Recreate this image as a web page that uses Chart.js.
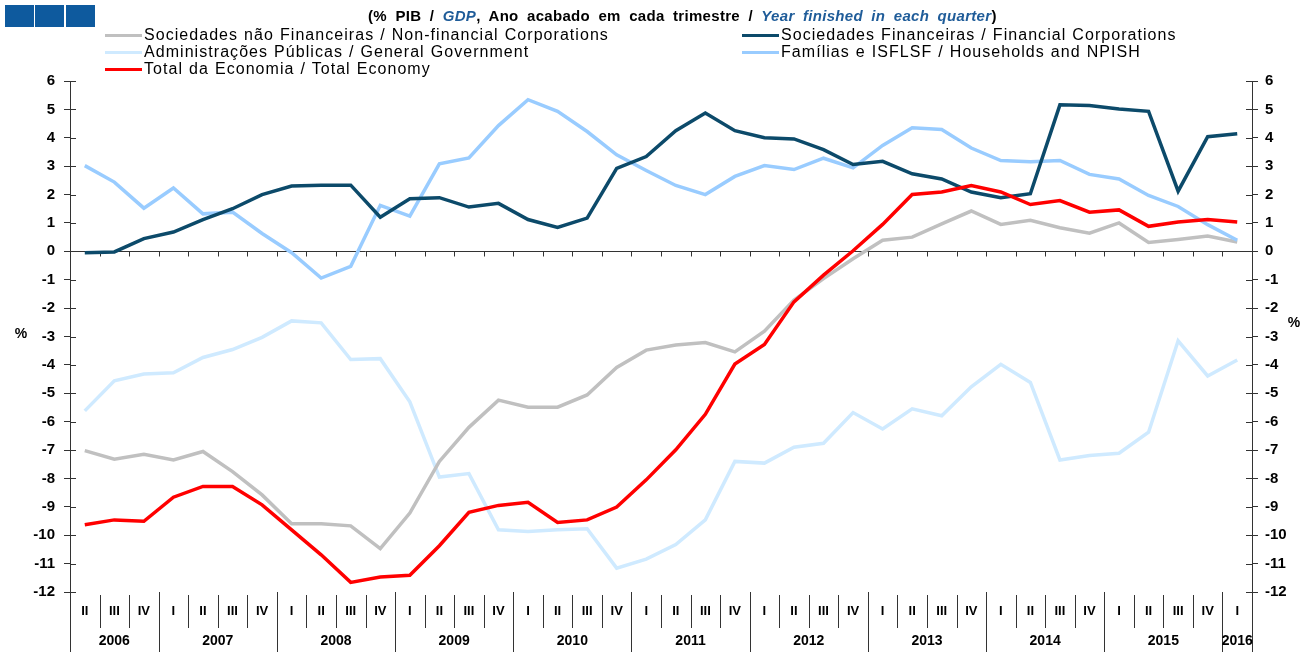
<!DOCTYPE html>
<html lang="pt">
  <head>
    <meta charset="UTF-8" />
    <title>Capacidade / necessidade de financiamento por setor</title>
    <script src="https://cdn.jsdelivr.net/npm/chart.js"></script>
    <style>
      body { margin: 0; background: #fff; font-family: Arial, "Liberation Sans", sans-serif; }
      #wrap { position: relative; width: 1305px; height: 652px; }
      #title { position: absolute; top: 7px; left: 368px; font-size: 15px; font-weight: bold; white-space: nowrap; letter-spacing: 0.3px; word-spacing: 4px; }
      #title i { color: #1f5c99; }
      .sq { position: absolute; top: 5px; width: 29px; height: 22px; background: #0e5a9e; }
      .leg { position: absolute; font-size: 16px; white-space: nowrap; line-height: 17px; letter-spacing: 1.05px; word-spacing: 0.5px; }
      .leg span { display: inline-block; width: 37px; height: 3px; vertical-align: middle; margin-right: 2px; }
    </style>
  </head>
  <body>
    <div id="wrap">
      <canvas id="chart" width="1305" height="652"></canvas>
      <div class="sq" style="left:5px"></div>
      <div class="sq" style="left:35px"></div>
      <div class="sq" style="left:66px"></div>
      <div id="title">(% PIB / <i>GDP</i>, Ano acabado em cada trimestre / <i>Year finished in each quarter</i>)</div>
      <div id="legend"></div>
    </div>

    <script>
      // trimestres 2006 II .. 2016 I
      const quarters = [
        "II", "III", "IV",
        "I", "II", "III", "IV",
        "I", "II", "III", "IV",
        "I", "II", "III", "IV",
        "I", "II", "III", "IV",
        "I", "II", "III", "IV",
        "I", "II", "III", "IV",
        "I", "II", "III", "IV",
        "I", "II", "III", "IV",
        "I", "II", "III", "IV",
        "I",
      ];
      const years = ["2006", "2007", "2008", "2009", "2010", "2011", "2012", "2013", "2014", "2015", "2016"];

      const nonFinancial = [-7.02, -7.32, -7.15, -7.35, -7.05, -7.76, -8.58, -9.6, -9.6, -9.67, -10.47, -9.22, -7.4,
        -6.2, -5.24, -5.49, -5.49, -5.06, -4.09, -3.48, -3.3, -3.21, -3.54, -2.81, -1.72, -0.96, -0.26,
        0.39, 0.5, 0.97, 1.42, 0.95, 1.09, 0.83, 0.64, 1.0, 0.31, 0.42, 0.54, 0.33];
      const financial = [-0.05, -0.02, 0.45, 0.68, 1.12, 1.5, 2.0, 2.3, 2.33, 2.33, 1.2, 1.85, 1.89,
        1.56, 1.69, 1.12, 0.84, 1.17, 2.92, 3.34, 4.25, 4.87, 4.25, 4.0, 3.96, 3.58, 3.06,
        3.17, 2.73, 2.55, 2.09, 1.89, 2.03, 5.16, 5.14, 5.01, 4.93, 2.12, 4.04, 4.14];
      const generalGov = [-5.62, -4.56, -4.32, -4.28, -3.74, -3.46, -3.03, -2.45, -2.52, -3.81, -3.78, -5.3, -7.95,
        -7.83, -9.81, -9.87, -9.81, -9.77, -11.16, -10.84, -10.33, -9.46, -7.4, -7.46, -6.9, -6.76, -5.68,
        -6.26, -5.55, -5.79, -4.77, -3.98, -4.62, -7.35, -7.19, -7.11, -6.37, -3.15, -4.39, -3.83];
      const households = [3.02, 2.44, 1.52, 2.23, 1.32, 1.38, 0.63, -0.05, -0.94, -0.53, 1.62, 1.24, 3.08,
        3.29, 4.43, 5.34, 4.93, 4.22, 3.4, 2.85, 2.32, 2.0, 2.64, 3.02, 2.88, 3.28, 2.94,
        3.73, 4.35, 4.29, 3.64, 3.2, 3.16, 3.2, 2.71, 2.55, 1.97, 1.58, 0.94, 0.39];
      const total = [-9.63, -9.46, -9.51, -8.66, -8.28, -8.28, -8.93, -9.81, -10.69, -11.66, -11.47, -11.41, -10.37,
        -9.19, -8.95, -8.84, -9.55, -9.46, -9.01, -8.05, -6.99, -5.74, -3.97, -3.28, -1.78, -0.84, 0.02,
        0.95, 2.0, 2.09, 2.32, 2.09, 1.65, 1.79, 1.38, 1.46, 0.88, 1.03, 1.12, 1.03];

      const series = [
        { label: "Sociedades não Financeiras / Non-financial Corporations", data: nonFinancial, color: "#c0c0c0", legend: [105, 26] },
        { label: "Administrações Públicas / General Government", data: generalGov, color: "#cfeaff", legend: [105, 43] },
        { label: "Total da Economia / Total Economy", data: total, color: "#ff0000", legend: [105, 60] },
        { label: "Sociedades Financeiras / Financial Corporations", data: financial, color: "#0c4a6a", legend: [742, 26] },
        { label: "Famílias e ISFLSF / Households and NPISH", data: households, color: "#99ccff", legend: [742, 43] },
      ];
      // ordem de desenho: total por cima
      const drawOrder = [1, 0, 4, 3, 2];

      const legend = document.getElementById("legend");
      series.forEach((s) => {
        const d = document.createElement("div");
        d.className = "leg";
        d.style.left = s.legend[0] + "px";
        d.style.top = s.legend[1] + "px";
        d.innerHTML = '<span style="background:' + s.color + '"></span>' + s.label;
        legend.appendChild(d);
      });

      const font = 'Arial, "Liberation Sans", sans-serif';

      const frame = {
        id: "frame",
        beforeDatasetsDraw(chart) {
          const { ctx, chartArea: a, scales } = chart;
          const x = scales.x, y = scales.y;
          const y0 = Math.round(y.getPixelForValue(0)) + 0.5;
          const half = (x.getPixelForValue(1) - x.getPixelForValue(0)) / 2;
          ctx.save();
          ctx.strokeStyle = "#333";
          ctx.lineWidth = 1;
          ctx.beginPath();
          ctx.moveTo(a.left, y0);
          ctx.lineTo(a.right, y0);
          for (let i = 1; i < quarters.length; i++) {
            const px = Math.round(x.getPixelForValue(i) - half) + 0.5;
            ctx.moveTo(px, y0);
            ctx.lineTo(px, y0 + 5);
          }
          // parte interior das marcas do eixo y
          y.ticks.forEach((t) => {
            const py = Math.round(y.getPixelForValue(t.value)) + 0.5;
            ctx.moveTo(a.left, py);
            ctx.lineTo(a.left + 6, py);
            ctx.moveTo(a.right - 6, py);
            ctx.lineTo(a.right, py);
          });
          ctx.stroke();
          ctx.restore();
        },
        afterDraw(chart) {
          const { ctx, chartArea: a, scales } = chart;
          const x = scales.x;
          const half = (x.getPixelForValue(1) - x.getPixelForValue(0)) / 2;
          const H = chart.height;
          ctx.save();
          ctx.strokeStyle = "#333";
          ctx.lineWidth = 1;
          ctx.beginPath();
          [a.left, a.right].forEach((px) => {
            px = Math.round(px) + 0.5;
            ctx.moveTo(px, a.bottom);
            ctx.lineTo(px, H);
          });
          for (let i = 1; i < quarters.length; i++) {
            const px = Math.round(x.getPixelForValue(i) - half) + 0.5;
            if (quarters[i] === "I") {
              ctx.moveTo(px, a.bottom);
              ctx.lineTo(px, H);
            } else {
              ctx.moveTo(px, a.bottom + 3);
              ctx.lineTo(px, a.bottom + 36);
            }
          }
          ctx.stroke();

          ctx.fillStyle = "#000";
          ctx.font = "bold 14px " + font;
          ctx.textAlign = "center";
          ctx.textBaseline = "middle";
          let start = 0, yi = 0;
          for (let i = 1; i <= quarters.length; i++) {
            if (i === quarters.length || quarters[i] === "I") {
              const cx = (x.getPixelForValue(start) + x.getPixelForValue(i - 1)) / 2;
              ctx.fillText(years[yi++], cx, a.bottom + 49);
              start = i;
            }
          }
          ctx.fillText("%", 21, 334);
          ctx.fillText("%", 1294, 323);
          ctx.restore();
        },
      };

      const yTicks = { stepSize: 1, color: "#000", font: { family: font, size: 15, weight: "bold" } };

      new Chart(document.getElementById("chart"), {
        type: "line",
        data: {
          labels: quarters,
          datasets: drawOrder.map((k, n) => ({
            label: series[k].label,
            data: series[k].data,
            borderColor: series[k].color,
            backgroundColor: series[k].color,
            borderWidth: 3.5,
            pointRadius: 0,
            tension: 0,
            fill: false,
            order: drawOrder.length - n,
          })),
        },
        options: {
          responsive: false,
          animation: false,
          layout: { padding: { top: 81, left: 0, right: 0, bottom: 0 } },
          plugins: { legend: { display: false }, title: { display: false }, tooltip: { enabled: false } },
          scales: {
            x: {
              type: "category",
              offset: true,
              grid: { display: false, drawTicks: false },
              border: { display: false },
              ticks: {
                autoSkip: false,
                maxRotation: 0,
                padding: 12,
                color: "#000",
                font: { family: font, size: 13, weight: "bold" },
              },
              afterFit: (s) => { s.height = 60; },
            },
            y: {
              position: "left",
              min: -12,
              max: 6,
              ticks: { ...yTicks, padding: 9 },
              grid: { drawOnChartArea: false, tickLength: 6, color: "#333" },
              border: { color: "#333" },
              afterFit: (s) => { s.width = 70; },
            },
            y2: {
              position: "right",
              min: -12,
              max: 6,
              ticks: { ...yTicks, padding: 7 },
              grid: { drawOnChartArea: false, tickLength: 6, color: "#333" },
              border: { color: "#333" },
              afterFit: (s) => { s.width = 53; },
            },
          },
        },
        plugins: [frame],
      });
    </script>
  </body>
</html>
